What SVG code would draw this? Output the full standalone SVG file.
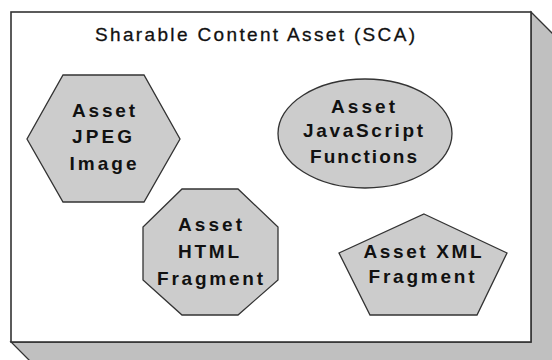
<svg xmlns="http://www.w3.org/2000/svg" width="552" height="360" viewBox="0 0 552 360">
<style>
.shape{fill:#cccccc;stroke:#333333;stroke-width:1.3}
.side{fill:#c0c0c0;stroke:#333333;stroke-width:1.3}
.front{fill:#ffffff;stroke:#333333;stroke-width:1.6}
.lbl{font-family:"Liberation Sans",Arial,sans-serif;font-weight:bold;font-size:19px;fill:#111111}
.title{font-family:"Liberation Sans",Arial,sans-serif;font-size:19px;fill:#111111;stroke:#111111;stroke-width:0.3}
</style>
<rect width="552" height="360" fill="#ffffff"/>
<g id="sca">
<polygon class="side" points="531,12 581,62 581,392 61,392 11,342 531,342"/>
<rect class="front" x="11" y="12" width="520" height="330"/>
<text class="title" x="95" y="41" textLength="320" lengthAdjust="spacing">Sharable Content Asset (SCA)</text>
</g>
<g id="connectors"/>
<g id="jpeg">
<polygon class="shape" points="63,75 144,75 180,139 144,202 63,202 27,139"/>
<text class="lbl" x="72" y="117" textLength="63" lengthAdjust="spacing">Asset</text>
<text class="lbl" x="72" y="143" textLength="60" lengthAdjust="spacing">JPEG</text>
<text class="lbl" x="69.5" y="170" textLength="67" lengthAdjust="spacing">Image</text>
</g>
<g id="javascript">
<ellipse class="shape" cx="365" cy="133.5" rx="87" ry="54.5"/>
<text class="lbl" x="331" y="113" textLength="64" lengthAdjust="spacing">Asset</text>
<text class="lbl" x="303" y="137" textLength="120" lengthAdjust="spacing">JavaScript</text>
<text class="lbl" x="310" y="163" textLength="107" lengthAdjust="spacing">Functions</text>
</g>
<g id="html">
<polygon class="shape" points="182,189 238,189 278,227 278,280 238,315 182,315 143,280 143,227"/>
<text class="lbl" x="178" y="231" textLength="64" lengthAdjust="spacing">Asset</text>
<text class="lbl" x="178" y="258" textLength="61" lengthAdjust="spacing">HTML</text>
<text class="lbl" x="157" y="285" textLength="106" lengthAdjust="spacing">Fragment</text>
</g>
<g id="xml">
<polygon class="shape" points="424,214 507,253 477,315 370,315 339,253"/>
<text class="lbl" x="363.5" y="258" textLength="118" lengthAdjust="spacing">Asset XML</text>
<text class="lbl" x="368.5" y="283" textLength="106" lengthAdjust="spacing">Fragment</text>
</g>
</svg>
